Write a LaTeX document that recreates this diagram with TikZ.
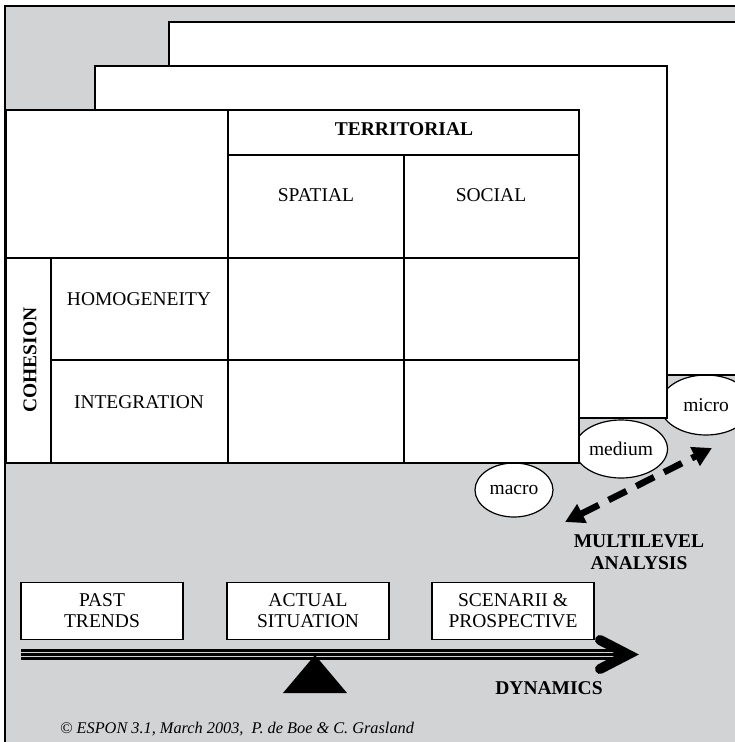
\documentclass[tikz,border=0pt]{standalone}
\usepackage{fontspec}
\setmainfont{Liberation Serif}
\usetikzlibrary{shapes.geometric,arrows.meta}
\definecolor{panelgray}{RGB}{209,211,212}

\begin{document}
\begin{tikzpicture}[x=1pt,y=-1pt,
  sheet/.style={draw=black, fill=white, line width=1.8pt},
  rule/.style={draw=black, line width=1.8pt},
  label/.style={font=\fontsize{19.5}{22}\selectfont, inner sep=0pt},
  heading/.style={font=\fontsize{19.5}{22}\selectfont\bfseries, inner sep=0pt},
  level/.style={ellipse, draw=black, fill=white, line width=1.2pt, inner sep=0pt,
                font=\fontsize{19.5}{22}\selectfont},
  stage/.style={draw=black, fill=white, line width=1.5pt, align=center,
                minimum width=162pt, minimum height=57pt, inner sep=0pt,
                font=\fontsize{19.5}{21}\selectfont},
  ]
\useasboundingbox (0,0) rectangle (735,742);

% grey panel with its frame
\fill[panelgray] (5,6) rectangle (760,760);
\draw[line width=2pt] (5,760) -- (5,6) -- (760,6);

% observation levels, partly hidden behind the sheets
\node[level, minimum width=92pt, minimum height=60pt] (micro)  at (706,405) {micro};
\node[level, minimum width=93pt, minimum height=58pt] (medium) at (621,449) {medium};
\node[level, minimum width=78pt, minimum height=54pt] (macro)  at (514,490) {macro};

% stacked sheets
\draw[sheet] (169,22) rectangle (760,375);
\draw[sheet] (95,66) rectangle (667,418);
\draw[sheet] (6,110) rectangle (579,463);

% table grid
\draw[rule] (228,110) -- (228,463);
\draw[rule] (404,155) -- (404,463);
\draw[rule] (228,155) -- (579,155);
\draw[rule] (6,258) -- (579,258);
\draw[rule] (51,258) -- (51,463);
\draw[rule] (51,360) -- (579,360);

% table texts
\node[heading] (territorial) at (404,129) {TERRITORIAL};
\node[label] (spatial) at (316,195) {SPATIAL};
\node[label] (social) at (491,195) {SOCIAL};
\node[label] (homog) at (139,299) {HOMOGENEITY};
\node[label] (integ) at (139,402) {INTEGRATION};
\node[heading, rotate=90] (cohesion) at (30,360) {COHESION};

% multilevel arrow
\coordinate (lvlhi) at (712,448);
\coordinate (lvllo) at (565,522);
\draw[line width=6.5pt, dash pattern=on 20pt off 11pt,
      {Triangle[length=19pt,width=20pt]}-{Triangle[length=19pt,width=20pt]}]
      (lvllo) -- (lvlhi);
\node[heading, align=center, font=\fontsize{19.5}{22}\selectfont\bfseries] (multi) at (639,552)
      {MULTILEVEL\\ANALYSIS};

% time stages
\node[stage] (past) at (102,611) {PAST\\TRENDS};
\node[stage] (actual) at (308,611) {ACTUAL\\SITUATION};
\node[stage] (scen) at (513,611) {SCENARII \&\\PROSPECTIVE};

% dynamics arrow: three parallel rails and a chevron head
\coordinate (tstart) at (21,654.5);
\coordinate (tend) at (627,654.5);
\draw[line width=11pt] (tstart) -- (tend);
\draw[panelgray, line width=1pt] ([yshift=-1.7pt]tstart) -- ([yshift=-1.7pt]tend);
\draw[panelgray, line width=1pt] ([yshift=2pt]tstart) -- ([yshift=2pt]tend);
\draw[line width=10pt, line cap=round, line join=miter] (600,640) -- (628,654.5) -- (600,669);

% fulcrum
\fill (283,693) -- (315,655) -- (347,693) -- cycle;

\node[heading] (dyn) at (549,688) {DYNAMICS};

\node[anchor=west, inner sep=0pt, font=\fontsize{16.3}{19}\selectfont\itshape] (credit) at (60,729)
  {\textcopyright\ ESPON 3.1, March 2003,\ \ P. de Boe \& C. Grasland};
\end{tikzpicture}
\end{document}
